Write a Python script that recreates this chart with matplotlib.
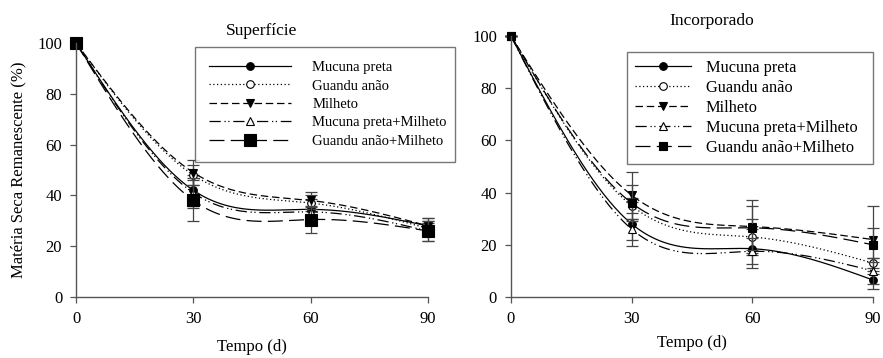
import numpy as np
import matplotlib.pyplot as plt

plt.rcParams['font.family'] = ['Liberation Serif', 'DejaVu Serif']

dias = [0, 30, 60, 90]
nomes = ['Mucuna preta', 'Guandu anão', 'Milheto', 'Mucuna preta+Milheto', 'Guandu anão+Milheto']

# Superficie
sup_mucuna = [100, 42, 34.5, 28]
sup_guandu = [100, 48, 37, 27]
sup_milheto = [100, 49, 38, 28]
sup_muc_mil = [100, 41, 33.5, 26]
sup_gua_mil = [100, 38, 30.5, 26]
sup_err_mucuna = [0, 6, 4, 3]
sup_err_guandu = [0, 4, 3, 2]
sup_err_milheto = [0, 5, 3.5, 3]
sup_err_muc_mil = [0, 6, 2, 4]
sup_err_gua_mil = [0, 8, 5.5, 4]

# Incorporado
inc_mucuna = [100, 28, 18.5, 6.5]
inc_guandu = [100, 35, 23, 13]
inc_milheto = [100, 39, 27, 22]
inc_muc_mil = [100, 26, 17.5, 10]
inc_gua_mil = [100, 36, 26.5, 20]
inc_err_mucuna = [0, 8.5, 7.5, 3.5]
inc_err_guandu = [0, 3, 7, 2]
inc_err_milheto = [0, 9, 10, 13]
inc_err_muc_mil = [0, 4, 5, 5]
inc_err_gua_mil = [0, 7, 8.5, 6.5]


def natural_spline(x, y, n=200):
    # curva suavizada so para o desenho da linha
    x = np.asarray(x, float)
    y = np.asarray(y, float)
    k = len(x)
    h = np.diff(x)
    A = np.zeros((k, k))
    r = np.zeros(k)
    A[0, 0] = 1
    A[-1, -1] = 1
    for i in range(1, k - 1):
        A[i, i - 1] = h[i - 1]
        A[i, i] = 2 * (h[i - 1] + h[i])
        A[i, i + 1] = h[i]
        r[i] = 6 * ((y[i + 1] - y[i]) / h[i] - (y[i] - y[i - 1]) / h[i - 1])
    m = np.linalg.solve(A, r)
    xs = np.linspace(x[0], x[-1], n)
    ys = np.zeros_like(xs)
    for j, t in enumerate(xs):
        i = min(np.searchsorted(x, t, side='right') - 1, k - 2)
        a = x[i + 1] - t
        b = t - x[i]
        ys[j] = (m[i] * a ** 3 + m[i + 1] * b ** 3) / (6 * h[i]) \
            + (y[i] / h[i] - m[i] * h[i] / 6) * a + (y[i + 1] / h[i] - m[i + 1] * h[i] / 6) * b
    return xs, ys


estilos = [
    dict(ls='-', marker='o', mfc='black'),
    dict(ls=(0, (1, 2)), marker='o', mfc='white'),
    dict(ls=(0, (6, 3)), marker='v', mfc='black'),
    dict(ls=(0, (9, 3, 1, 2, 1, 3)), marker='^', mfc='white'),
    dict(ls=(0, (12, 5)), marker='s', mfc='black'),
]


def painel(ax, series, erros, titulo, sq_size, fs_leg, leg_box, title_pad, title_x,
           xlab_pad, hlen, htpad, lspace, bpad):
    for s, e, nome, st in zip(series, erros, nomes, estilos):
        xs, ys = natural_spline(dias, s)
        ax.plot(xs, ys, color='black', ls=st['ls'], lw=0.9, clip_on=False)
        ax.errorbar(dias, s, yerr=e, fmt='none', ecolor='#444444', elinewidth=0.9,
                    capsize=4, capthick=0.9, clip_on=False)
        ms = sq_size if st['marker'] == 's' else 5.5
        ax.plot(dias, s, ls='none', marker=st['marker'], ms=ms, mfc=st['mfc'],
                mec='black', mew=0.8, clip_on=False)
        ax.plot([], [], color='black', ls=st['ls'], lw=0.9, marker=st['marker'],
                ms=ms, mfc=st['mfc'], mec='black', mew=0.8, label=nome)
    ax.set_xlim(0, 90)
    ax.set_ylim(0, 100)
    ax.set_xticks([0, 30, 60, 90])
    ax.set_yticks([0, 20, 40, 60, 80, 100])
    ax.spines['top'].set_visible(False)
    ax.spines['right'].set_visible(False)
    for sp in ['left', 'bottom']:
        ax.spines[sp].set_color('#555555')
        ax.spines[sp].set_linewidth(1.0)
    ax.tick_params(direction='out', length=4, width=0.9, color='#555555',
                   labelsize=12, pad=6)
    ax.set_xlabel('Tempo (d)', fontsize=12, labelpad=xlab_pad)
    ax.set_title(titulo, fontsize=12.5, pad=title_pad, x=title_x)
    handles, labels = ax.get_legend_handles_labels()
    leg = ax.legend(handles, labels, loc='upper left', bbox_to_anchor=leg_box,
                    bbox_transform=ax.figure.transFigure, mode='expand',
                    fontsize=fs_leg, frameon=True, fancybox=False, edgecolor='#555555',
                    handlelength=hlen, handletextpad=htpad, labelspacing=lspace,
                    borderpad=bpad, borderaxespad=0)
    leg.get_frame().set_linewidth(1.0)
    leg.set_clip_on(False)


fig = plt.figure(figsize=(8.83, 3.58), dpi=100)
ax1 = fig.add_axes([0.0861, 0.1704, 0.3986, 0.7095])
ax2 = fig.add_axes([0.5787, 0.1704, 0.4100, 0.7290])

painel(ax1, [sup_mucuna, sup_guandu, sup_milheto, sup_muc_mil, sup_gua_mil],
       [sup_err_mucuna, sup_err_guandu, sup_err_milheto, sup_err_muc_mil, sup_err_gua_mil],
       'Superfície', 9, 10.5, (195 / 883, 1 - 47 / 358, 260 / 883, 0), 6, 0.528, 9,
       5.6, 1.5, 0.36, 0.95)
painel(ax2, [inc_mucuna, inc_guandu, inc_milheto, inc_muc_mil, inc_gua_mil],
       [inc_err_mucuna, inc_err_guandu, inc_err_milheto, inc_err_muc_mil, inc_err_gua_mil],
       'Incorporado', 6, 11.8, (627 / 883, 1 - 52 / 358, 246 / 883, 0), 8, 0.555, 6,
       3.4, 0.9, 0.24, 0.5)

ax1.set_ylabel('Matéria Seca Remanescente (%)', fontsize=12, labelpad=8)

fig.savefig('out.png', dpi=100)
